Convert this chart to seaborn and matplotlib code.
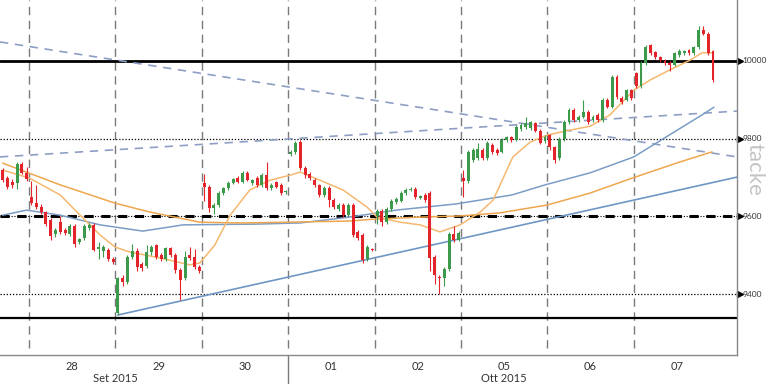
import numpy as np
import pandas as pd
import seaborn as sns
import matplotlib.pyplot as plt
import matplotlib.transforms as mtransforms

sns.set_style("white")
plt.rcParams['font.family'] = ['Lato', 'DejaVu Sans']

# hourly candles, 18 per session (first 6 belong to 25 Sep)
opens = [9719, 9700, 9688, 9685, 9735, 9712,
         9650, 9635, 9625, 9610, 9590, 9555, 9585, 9565, 9555, 9575, 9535, 9545, 9570, 9578, 9515, 9512, 9513, 9490,
         9350, 9440, 9432, 9495, 9512, 9478, 9472, 9508, 9526, 9500, 9490, 9518, 9500, 9462, 9440, 9500, 9495, 9470,
         9686, 9676, 9622, 9630, 9660, 9673, 9686, 9699, 9689, 9712, 9685, 9699, 9681, 9707, 9673, 9688, 9681, 9662,
         9760, 9766, 9792, 9725, 9710, 9693, 9680, 9655, 9673, 9642, 9620, 9630, 9603, 9630, 9560, 9552, 9490, 9515,
         9600, 9615, 9585, 9620, 9638, 9640, 9660, 9668, 9671, 9648, 9655, 9660, 9495, 9445, 9440, 9465, 9555, 9540,
         9700, 9690, 9745, 9750, 9771, 9750, 9784, 9771, 9766, 9797, 9804, 9797, 9825, 9830, 9827, 9840, 9820, 9795,
         9809, 9778, 9750, 9800, 9843, 9874, 9848, 9856, 9869, 9848, 9861, 9848, 9900, 9882, 9959, 9905, 9900, 9925,
         9968, 9935, 9995, 10040, 10022, 10010, 10000, 9995, 9990, 10015, 10020, 10028, 10020, 10035, 10080, 10070, 10025]
highs = [9725, 9705, 9695, 9740, 9740, 9728,
         9690, 9680, 9632, 9615, 9595, 9570, 9600, 9570, 9580, 9580, 9545, 9580, 9582, 9582, 9535, 9525, 9518, 9495,
         9445, 9448, 9500, 9530, 9518, 9482, 9525, 9525, 9530, 9505, 9522, 9522, 9505, 9466, 9510, 9520, 9515, 9474,
         9710, 9680, 9635, 9665, 9676, 9690, 9700, 9703, 9716, 9716, 9697, 9703, 9712, 9740, 9685, 9692, 9685, 9668,
         9770, 9795, 9796, 9730, 9714, 9698, 9684, 9678, 9678, 9646, 9634, 9634, 9634, 9634, 9565, 9556, 9525, 9518,
         9618, 9620, 9625, 9645, 9650, 9665, 9672, 9676, 9675, 9656, 9660, 9664, 9500, 9450, 9470, 9560, 9575, 9562,
         9720, 9770, 9775, 9790, 9776, 9795, 9788, 9775, 9802, 9808, 9808, 9834, 9840, 9855, 9846, 9844, 9824, 9810,
         9813, 9782, 9805, 9848, 9880, 9878, 9860, 9900, 9873, 9860, 9865, 9904, 9904, 9963, 9963, 9909, 9929, 9929,
         9972, 10000, 10040, 10044, 10026, 10014, 10004, 9999, 10024, 10030, 10029, 10032, 10039, 10090, 10090, 10074, 10029]
lows = [9688, 9670, 9672, 9670, 9708, 9692,
        9630, 9618, 9605, 9575, 9540, 9548, 9555, 9552, 9550, 9520, 9528, 9540, 9565, 9510, 9490, 9495, 9485, 9478,
        9345, 9420, 9425, 9490, 9460, 9460, 9468, 9500, 9490, 9485, 9486, 9495, 9455, 9385, 9435, 9488, 9465, 9455,
        9640, 9610, 9605, 9625, 9655, 9668, 9682, 9685, 9685, 9690, 9680, 9676, 9676, 9668, 9668, 9672, 9655, 9658,
        9755, 9760, 9720, 9700, 9694, 9676, 9650, 9650, 9625, 9620, 9615, 9598, 9600, 9548, 9540, 9480, 9485, 9510,
        9580, 9575, 9580, 9615, 9632, 9636, 9655, 9664, 9645, 9644, 9638, 9460, 9425, 9400, 9420, 9460, 9535, 9536,
        9650, 9685, 9740, 9745, 9745, 9746, 9760, 9758, 9762, 9792, 9792, 9793, 9820, 9826, 9822, 9816, 9786, 9790,
        9770, 9737, 9745, 9795, 9838, 9843, 9844, 9852, 9838, 9844, 9844, 9844, 9878, 9878, 9903, 9890, 9896, 9900,
        9930, 9930, 9990, 10015, 10006, 9998, 9990, 9975, 9986, 10011, 10016, 10016, 10016, 10031, 10066, 10016, 9945]
closes = [9693, 9676, 9680, 9735, 9712, 9697,
          9635, 9625, 9610, 9580, 9550, 9565, 9560, 9558, 9575, 9530, 9542, 9575, 9578, 9513, 9520, 9520, 9490, 9482,
          9440, 9430, 9495, 9512, 9470, 9467, 9508, 9522, 9495, 9490, 9518, 9500, 9462, 9436, 9495, 9492, 9470, 9460,
          9676, 9622, 9630, 9660, 9673, 9686, 9696, 9689, 9712, 9694, 9693, 9681, 9707, 9673, 9681, 9676, 9660, 9665,
          9766, 9789, 9725, 9706, 9699, 9680, 9655, 9673, 9642, 9625, 9630, 9603, 9630, 9552, 9545, 9487, 9520, 9513,
          9615, 9585, 9620, 9640, 9645, 9660, 9668, 9671, 9650, 9652, 9642, 9492, 9450, 9440, 9465, 9555, 9540, 9557,
          9690, 9766, 9771, 9774, 9750, 9789, 9766, 9763, 9797, 9804, 9797, 9830, 9835, 9840, 9843, 9820, 9790, 9805,
          9778, 9745, 9800, 9843, 9874, 9848, 9856, 9869, 9843, 9856, 9848, 9900, 9882, 9959, 9908, 9895, 9925, 9905,
          9935, 9995, 10036, 10020, 10010, 10002, 9995, 9990, 10020, 10025, 10025, 10020, 10035, 10080, 10070, 10020, 9950]

# moving averages read at a few candle positions
fast_x = [0, 5.5, 12, 16.7, 20.3, 23.4, 26.5, 32.8, 39, 41.1, 44.2, 47.4, 51.5, 55.7, 59.9, 62, 66.1, 70.9, 75.9,
          78, 82.8, 87, 91.1, 95.3, 99.5, 102.2, 106.3, 109.9, 113.4, 118.2, 122.4, 126.5, 131.5, 134.9, 139, 143.2,
          145.7, 147.8]
fast_ma = [9719, 9699, 9655, 9596, 9552, 9521, 9508, 9493, 9475, 9480, 9526, 9603, 9668, 9693, 9706, 9714, 9693,
           9668, 9624, 9598, 9585, 9578, 9560, 9578, 9611, 9642, 9753, 9791, 9809, 9822, 9832, 9861, 9925, 9951,
           9977, 10002, 10021, 10021]
slow_x = [0, 12, 23.4, 30.7, 41.1, 49.5, 59.9, 72.4, 77.6, 87, 95.3, 103.6, 113.4, 122.4, 131.3, 141.1, 147.8]
slow_ma = [9737, 9681, 9634, 9611, 9585, 9583, 9585, 9588, 9593, 9598, 9601, 9609, 9629, 9660, 9699, 9740, 9766]
blue_x = [0, 5, 12, 20.3, 29.2, 37.6, 52.8, 62, 72.2, 82, 94.5, 106.1, 113, 122.4, 131.5, 139.5, 145.7, 148.2]
blue_ma = [9603, 9616, 9603, 9578, 9562, 9578, 9580, 9583, 9598, 9616, 9632, 9655, 9681, 9712, 9753, 9814,
           9861, 9881]

day_labels = ["28", "29", "30", "01", "02", "05", "06", "07"]
levels = [10000, 9800, 9600, 9400]
support = 9338

n = len(closes)
df = pd.DataFrame({"x": np.arange(n), "open": opens, "high": highs, "low": lows, "close": closes})
df["up"] = df["close"] >= df["open"]

fig = plt.figure(figsize=(7.68, 3.84), dpi=100)
ax = fig.add_axes([0, 29 / 384, 737 / 768, 355 / 384])
x0, x1 = -0.55, 153.0
ax.set_xlim(x0, x1)
ax.set_ylim(9243, 10157)

# session separators
bounds = [5.5 + 18 * k for k in range(8)]
for b in bounds:
    ax.axvline(b, ymin=0.02, color="#7a7a7a", lw=1, ls=(0, (6, 4)), zorder=1)
# month separator tick below the axis
trans_xa = mtransforms.blended_transform_factory(ax.transData, ax.transAxes)
ax.plot([59.5, 59.5], [0, -0.09], color="#7a7a7a", lw=1, transform=trans_xa, clip_on=False)

# horizontal levels
ax.axhline(10000, color="black", lw=2.0, zorder=2)
ax.axhline(9800, color="black", lw=0.9, ls=(0, (1, 1.5)), zorder=2)
ax.axhline(9600, color="black", lw=2.2, ls=(0, (3, 2.5)), zorder=2)
ax.axhline(9600, color="black", lw=0.8, ls=(0, (1, 1.5)), zorder=2)
ax.axhline(9400, color="black", lw=0.9, ls=(0, (1, 1.5)), zorder=2)
ax.axhline(support, color="black", lw=1.6, zorder=2)

# trend lines
ax.plot([x0, x1], [10049, 9753], color="#8e9ec4", lw=1.2, ls=(0, (5, 4)), zorder=2)
ax.plot([x0, x1], [9753, 9871], color="#8e9ec4", lw=1.2, ls=(0, (5, 4)), zorder=2)
ax.plot([24, x1], [9346, 9701], color="#6f97c4", lw=1.2, zorder=2)

# moving averages
sns.lineplot(x=blue_x, y=blue_ma, ax=ax, color="#7b9dc6", lw=1.1, zorder=3)
sns.lineplot(x=slow_x, y=slow_ma, ax=ax, color="#eea64f", lw=1.1, zorder=3)
sns.lineplot(x=fast_x, y=fast_ma, ax=ax, color="#f5b870", lw=1.1, zorder=3)

# candles
red, green = "#e3242b", "#3c9a4a"
colors = np.where(df["up"], green, red)
ax.vlines(df["x"], df["low"], df["high"], colors=colors, lw=0.8, zorder=4)
body_lo = np.minimum(df["open"], df["close"])
body_h = np.maximum((df["close"] - df["open"]).abs(), 2)
ax.bar(df["x"], body_h, bottom=body_lo, width=0.62, color=colors, lw=0, zorder=5)

# right hand level labels
trans_ay = mtransforms.blended_transform_factory(ax.transAxes, ax.transData)
for lv in levels:
    ax.plot(1.004, lv, marker=">", color="black", ms=4, transform=trans_ay, clip_on=False)
    ax.text(1.007, lv, str(lv), transform=trans_ay, va="center", ha="left", fontsize=6,
            color="#333333")
fig.text(0.983, 0.56, "tacke", rotation=270, fontsize=16, color="#c4c4c4", ha="center", va="center")

# x axis
centers = [b + 9 for b in bounds]
ax.set_xticks(centers)
ax.set_xticklabels(day_labels, fontsize=8, color="#333333")
ax.tick_params(axis="x", length=0, pad=4)
ax.set_yticks([])
ax.text(23.5, -0.065, "Set 2015", transform=trans_xa, ha="center", va="center", fontsize=8, color="#333333")
ax.text(104.5, -0.065, "Ott 2015", transform=trans_xa, ha="center", va="center", fontsize=8, color="#333333")

for s in ["left", "top"]:
    ax.spines[s].set_visible(False)
for s in ["bottom", "right"]:
    ax.spines[s].set_color("#888888")
    ax.spines[s].set_linewidth(1)

fig.savefig("out.png", dpi=100)
